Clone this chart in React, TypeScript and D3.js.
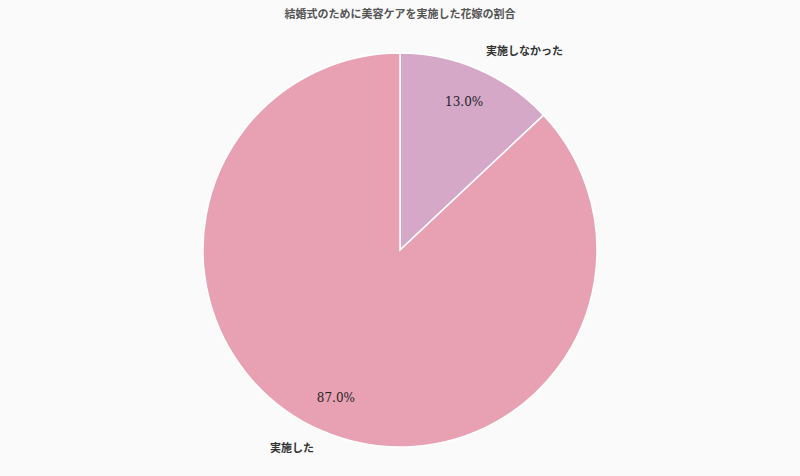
import React from 'react';
import * as d3 from 'd3';

const title = '結婚式のために美容ケアを実施した花嫁の割合';
const categories = ['実施しなかった', '実施した'];
const values = [13.0, 87.0];
const colors = ['#d5a8c8', '#e8a1b3'];

const width = 800;
const height = 476;
const cx = 400;
const cy = 250;
const radius = 197;

const App: React.FC = () => {
  const pie = d3.pie<number>().sort(null).value(d => d);
  const arcs = pie(values);
  const arc = d3.arc<d3.PieArcDatum<number>>().innerRadius(0).outerRadius(radius);
  const pctArc = d3.arc<d3.PieArcDatum<number>>().innerRadius(radius * 0.82).outerRadius(radius * 0.82);
  const labelArc = d3.arc<d3.PieArcDatum<number>>().innerRadius(radius * 1.1).outerRadius(radius * 1.1);
  const font = '"DejaVu Serif", "Noto Sans CJK JP", serif';

  return (
    <div style={{ position: 'fixed', left: 0, top: 0 }}>
      <svg width={width} height={height} style={{ display: 'block', background: '#fafafa' }}>
        <text x={width / 2} y={18} textAnchor="middle" fontSize={11} fontWeight="bold" fill="#555" fontFamily={font}>
          {title}
        </text>
        <g transform={`translate(${cx},${cy})`}>
          {arcs.map((a, i) => (
            <path key={i} d={arc(a) || ''} fill={colors[i]} stroke="#fff" strokeWidth={1.5} />
          ))}
          {arcs.map((a, i) => {
            const [px, py] = pctArc.centroid(a);
            return (
              <text key={'p' + i} x={px} y={py} textAnchor="middle" dominantBaseline="central" fontSize={12} fill="#222" fontFamily={font}>
                {values[i].toFixed(1)}%
              </text>
            );
          })}
          {arcs.map((a, i) => {
            const [lx, ly] = labelArc.centroid(a);
            return (
              <text key={'l' + i} x={lx} y={ly} textAnchor={lx > 0 ? 'start' : 'end'} dominantBaseline="central" fontSize={11} fontWeight="bold" fill="#333" fontFamily={font}>
                {categories[i]}
              </text>
            );
          })}
        </g>
      </svg>
    </div>
  );
};

export default App;
